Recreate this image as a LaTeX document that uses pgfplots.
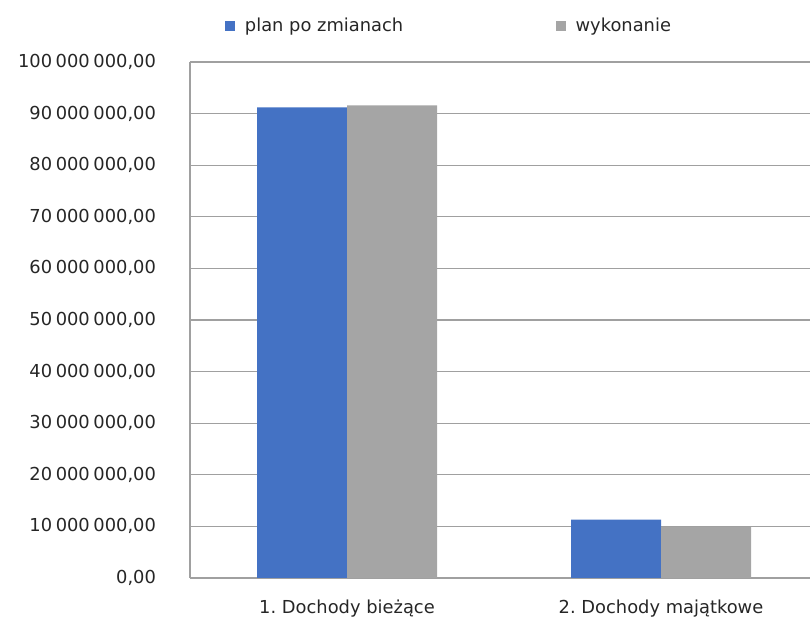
\documentclass[border=0pt]{standalone}
\usepackage{fontspec}
\setmainfont{DejaVu Sans}
\usepackage{pgfplots}
\pgfplotsset{compat=1.18}
\frenchspacing

\definecolor{planblue}{HTML}{4472C4}
\definecolor{wykgray}{HTML}{A5A5A5}
\definecolor{gridgray}{HTML}{A0A0A0}

\begin{document}
\begin{tikzpicture}
\begin{axis}[
    at={(0,0)}, anchor=south west,
    scale only axis,
    width=465pt, height=387pt,
    xmin=-0.5, xmax=1.4745,
    ymin=0, ymax=100000000,
    ytick distance=10000000,
    scaled y ticks=false,
    xtick={0,1},
    xticklabels={1. Dochody bieżące, 2. Dochody majątkowe},
    major tick length=0pt,
    axis x line*=bottom,
    axis y line*=left,
    axis line style={gridgray, line width=0.9pt},
    ymajorgrids,
    grid style={gridgray, line width=0.9pt},
    tick label style={font=\fontsize{13.4}{16}\selectfont, text=black!85},
    yticklabel style={xshift=-22pt},
    xticklabel style={yshift=-13pt},
    /pgf/number format/.cd, fixed, fixed zerofill, precision=2, use comma, 1000 sep={\hspace{0.2em}}, assume math mode=true,
    /pgfplots/.cd,
    legend columns=2,
    legend style={draw=none, fill=none, at={(rel axis cs:0.0565,1)}, anchor=south west, xshift=-3pt, yshift=17pt,
        font=\fontsize{13.4}{16}\selectfont, text=black!85,
        /tikz/every even column/.append style={column sep=112.5pt}},
    legend image code/.code={\path[#1, draw=none] (0pt,-3.75pt) rectangle (7.5pt,3.75pt); \path (12.75pt,0pt);},
]
\addplot[ybar, bar width=67.5pt, bar shift=-33.75pt, fill=planblue, draw=none] coordinates {(0,91200000) (1,11300000)};
\addplot[ybar, bar width=67.5pt, bar shift=33.75pt, fill=wykgray, draw=none] coordinates {(0,91600000) (1,9900000)};
\legend{plan po zmianach, wykonanie}
\end{axis}
\pgfresetboundingbox
\path[use as bounding box] (-142.5pt,-29.25pt) rectangle (465pt,433.5pt);
\end{tikzpicture}
\end{document}
